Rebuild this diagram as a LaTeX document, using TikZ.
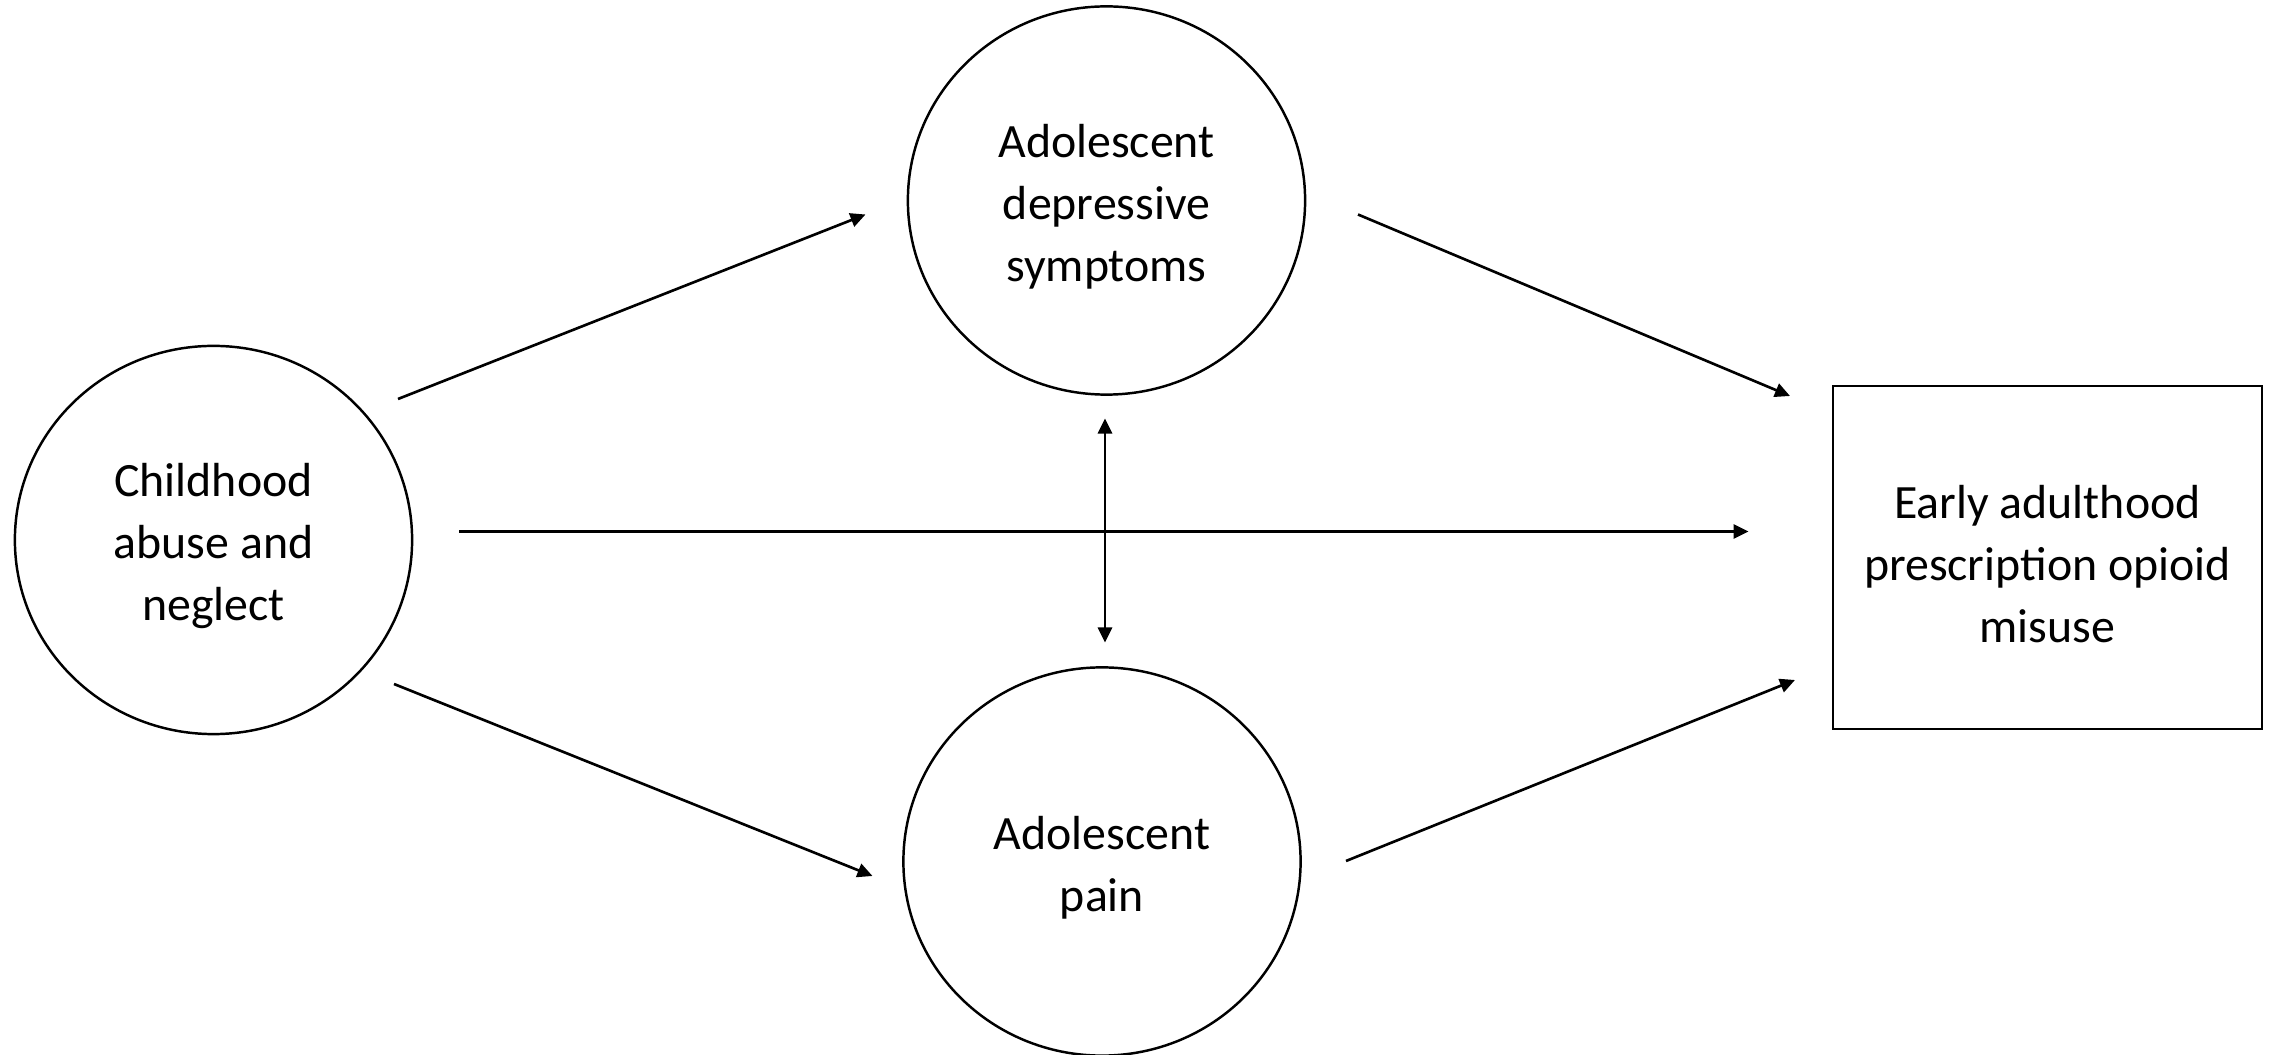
\documentclass[tikz,border=0pt]{standalone}
\usepackage{fontspec}
\setmainfont{Carlito}
\usetikzlibrary{shapes.geometric,arrows.meta}
\begin{document}
\begin{tikzpicture}[x=0.01cm,y=-0.01cm,
  var/.style={ellipse,draw,line width=0.7pt,inner sep=0pt,minimum width=3.97cm,minimum height=3.88cm,align=center,font=\fontsize{13.6}{17.6}\selectfont},
  outbox/.style={rectangle,draw,line width=0.7pt,inner sep=0pt,minimum width=4.29cm,minimum height=3.43cm,align=center,font=\fontsize{13.6}{17.6}\selectfont},
  arr/.style={line width=0.75pt,-{Triangle[length=0.15cm,width=0.14cm]}},
  darr/.style={line width=0.75pt,{Triangle[length=0.15cm,width=0.14cm]}-{Triangle[length=0.15cm,width=0.14cm]}}]
\useasboundingbox (0,0) rectangle (2277,1055);
\node[var] (child) at (213.5,540) {\rule{0pt}{13pt}Childhood\\abuse and\\neglect};
\node[var] (dep) at (1106.5,200.5) {\rule{0pt}{13pt}Adolescent\\depressive\\symptoms};
\node[var] (pain) at (1102,861.5) {\rule{0pt}{13pt}Adolescent\\pain};
\node[outbox] (out) at (2047.5,557.5) {\rule{0pt}{13pt}Early adulthood\\prescription opioid\\misuse};
\coordinate (c1) at (398,399);
\coordinate (d1) at (865.5,214.5);
\coordinate (c2) at (394,684);
\coordinate (p1) at (872.5,876);
\coordinate (d2) at (1358,214.5);
\coordinate (o1) at (1790,396);
\coordinate (p2) at (1346,861);
\coordinate (o2) at (1795,680);
\coordinate (c3) at (459,531.5);
\coordinate (o3) at (1748.5,531.5);
\coordinate (d3) at (1105,418.5);
\coordinate (p3) at (1105,642.5);
\draw[arr] (c1) -- (d1);
\draw[arr] (c2) -- (p1);
\draw[arr] (d2) -- (o1);
\draw[arr] (p2) -- (o2);
\draw[arr] (c3) -- (o3);
\draw[darr] (d3) -- (p3);
\end{tikzpicture}
\end{document}
